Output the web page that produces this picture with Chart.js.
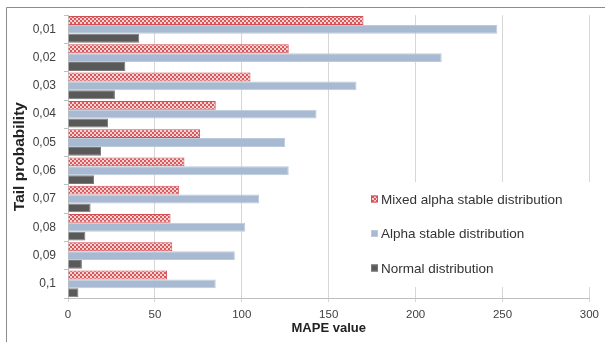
<!DOCTYPE html>
<html><head><meta charset="utf-8">
<script src="https://cdn.jsdelivr.net/npm/chart.js@4/dist/chart.umd.min.js"></script>
<style>html,body{margin:0;padding:0;background:#fff}#wrap{width:605px;height:342px}</style>
</head><body><div id="wrap"><canvas id="c" width="605" height="342"></canvas></div>
<script>
const categories = ['0,01','0,02','0,03','0,04','0,05','0,06','0,07','0,08','0,09','0,1'];
const mixedAlphaStable = [170,127,105,85,76,67,64,59,60,57];
const alphaStable = [247,215,166,143,125,127,110,102,96,85];
const normalDist = [41,33,27,23,19,15,13,10,8,6];
const xTicks = [0,50,100,150,200,250,300];
const seriesNames = ['Mixed alpha stable distribution','Alpha stable distribution','Normal distribution'];
const xTitle = 'MAPE value';
const yTitle = 'Tail probability';

function checker(c1, c2, cell){
  const p = document.createElement('canvas');
  p.width = p.height = cell*2;
  const g = p.getContext('2d');
  g.fillStyle = c2; g.fillRect(0,0,cell*2,cell*2);
  g.fillStyle = c1; g.fillRect(0,0,cell,cell); g.fillRect(cell,cell,cell,cell);
  return g.createPattern(p,'repeat');
}
const redFill = checker('#d9585c','#f7d3d4',2);
const blueFill = '#a8bad1';
const darkFill = '#595959';

Chart.defaults.font.family = "'Liberation Sans', Arial, sans-serif";
Chart.defaults.color = '#404040';

const framePlugin = {
  id:'frame',
  beforeDraw(chart){
    const ctx = chart.ctx;
    ctx.save();
    ctx.fillStyle='#fff'; ctx.fillRect(0,0,chart.width,chart.height);
    ctx.strokeStyle='#8c8c8c'; ctx.lineWidth=1;
    ctx.beginPath();
    ctx.moveTo(6.5,chart.height); ctx.lineTo(6.5,7.5); ctx.lineTo(chart.width,7.5);
    ctx.stroke();
    ctx.restore();
  }
};

const legendPlugin = {
  id:'insideLegend',
  beforeDatasetsDraw(chart, args, opts){
    const ctx = chart.ctx;
    ctx.save();
    ctx.fillStyle='#fff';
    ctx.fillRect(opts.left, opts.top, opts.width, opts.height);
    ctx.font = opts.fontSize + "px 'Liberation Sans', Arial, sans-serif";
    ctx.textBaseline='middle';
    chart.data.datasets.forEach((ds,i)=>{
      const cy = opts.firstRow + i*opts.rowGap;
      ctx.fillStyle = ds.backgroundColor;
      ctx.fillRect(opts.markerX, cy-3.5, 7, 7);
      ctx.strokeStyle = ds.borderColor; ctx.lineWidth=1;
      ctx.strokeRect(opts.markerX+0.5, cy-3, 6, 6);
      ctx.fillStyle='#333';
      ctx.fillText(ds.label, opts.markerX+10, cy+1);
    });
    ctx.restore();
  }
};

new Chart(document.getElementById('c'), {
  type:'bar',
  data:{
    labels: categories,
    datasets:[
      {label:seriesNames[0], data:mixedAlphaStable, backgroundColor:redFill, borderColor:'#d44f54', borderWidth:1},
      {label:seriesNames[1], data:alphaStable, backgroundColor:blueFill, borderColor:'#bccadb', borderWidth:1},
      {label:seriesNames[2], data:normalDist, backgroundColor:darkFill, borderColor:'#7a7a7a', borderWidth:1}
    ]
  },
  options:{
    indexAxis:'y',
    responsive:false,
    animation:false,
    categoryPercentage:0.94,
    barPercentage:1.0,
    layout:{padding:{top:13,right:12,bottom:0,left:0}},
    plugins:{
      legend:{display:false},
      tooltip:{enabled:false},
      insideLegend:{left:368, top:182, width:222, height:105, markerX:371, firstRow:199, rowGap:34.5, fontSize:13.5}
    },
    scales:{
      x:{
        min:0, max:300,
        afterBuildTicks(s){ s.ticks = xTicks.map(v=>({value:v})); },
        ticks:{font:{size:11.5}, color:'#404040', padding:6},
        grid:{color:'#d6d6d6', tickLength:4},
        border:{color:'#bfbfbf'},
        title:{display:true, text:xTitle, font:{size:13, weight:'bold'}, color:'#222', padding:{top:0,bottom:6}},
        afterFit(s){ s.height = 44; }
      },
      y:{
        ticks:{font:{size:12}, color:'#404040', padding:8},
        grid:{drawOnChartArea:false, tickLength:4, color:'#bfbfbf', offset:true},
        border:{color:'#bfbfbf'},
        title:{display:true, text:yTitle, font:{size:15.5, weight:'bold'}, color:'#222', padding:{top:10,bottom:0}},
        afterFit(s){ s.width = 68; }
      }
    }
  },
  plugins:[framePlugin, legendPlugin]
});
</script>
</body></html>
